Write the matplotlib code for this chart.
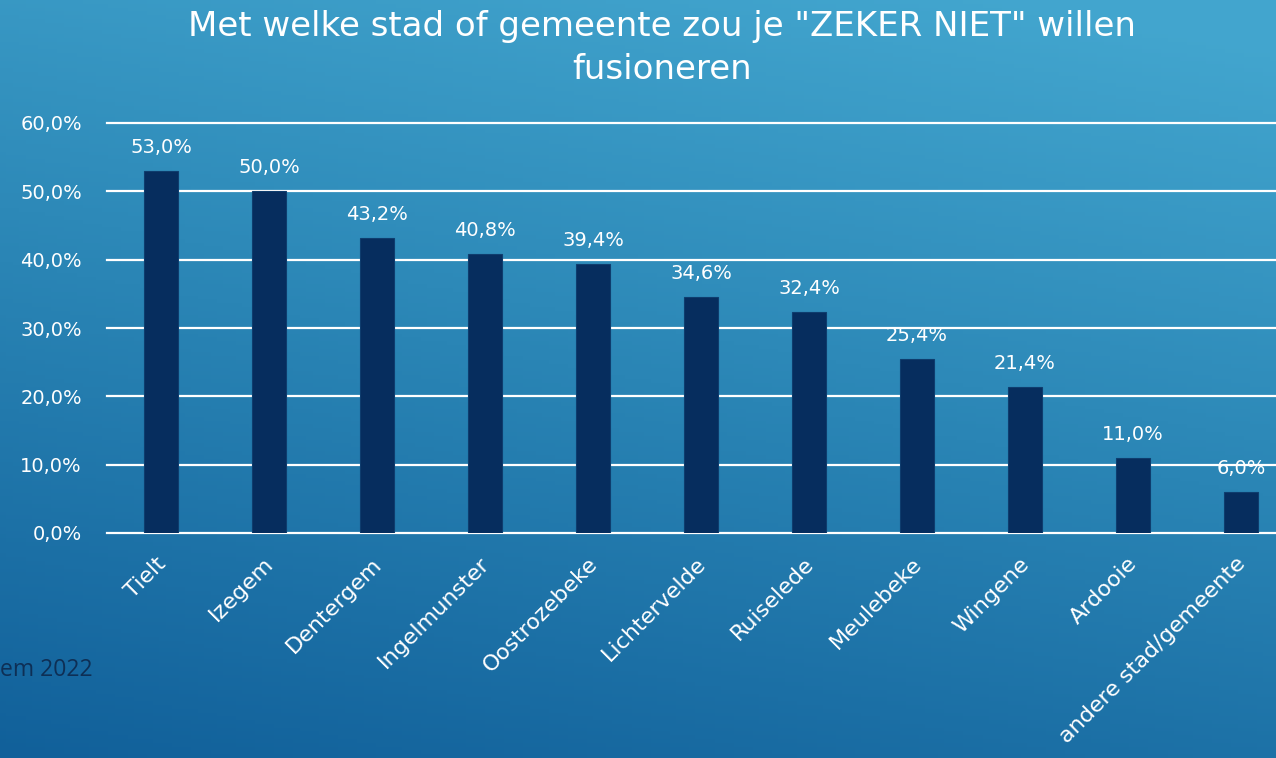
import numpy as np
import matplotlib
matplotlib.use("Agg")
import matplotlib.pyplot as plt
import matplotlib.transforms as mtransforms
from matplotlib.colors import LinearSegmentedColormap

categories = ["Tielt", "Izegem", "Dentergem", "Ingelmunster", "Oostrozebeke",
              "Lichtervelde", "Ruiselede", "Meulebeke", "Wingene", "Ardooie",
              "andere stad/gemeente"]
values = [53.0, 50.0, 43.2, 40.8, 39.4, 34.6, 32.4, 25.4, 21.4, 11.0, 6.0]
yticks = [0, 10, 20, 30, 40, 50, 60]
title = 'Met welke stad of gemeente zou je "ZEKER NIET" willen\nfusioneren'
footer = "em 2022"

W, H = 1276, 758
fig = plt.figure(figsize=(W/100, H/100), dpi=100)

# background gradient
bg = fig.add_axes([0, 0, 1, 1])
bg.set_axis_off()
yy, xx = np.mgrid[0:1:200j, 0:1:200j]
t = np.clip(0.8*yy + 0.25*xx, 0, 1)
cmap = LinearSegmentedColormap.from_list("bg", ["#11609a", "#2a85b5", "#45a9d1"])
bg.imshow(t, cmap=cmap, origin="lower", extent=[0, 1, 0, 1], aspect="auto",
          vmin=0, vmax=1.05)
bg.set_xlim(0, 1); bg.set_ylim(0, 1)

font = "DejaVu Sans"
white = "white"

left_px, right_px = 107, 107 + 11*108
top_px, bot_px = 123, 533
ax = fig.add_axes([left_px/W, 1 - bot_px/H, (right_px-left_px)/W, (bot_px-top_px)/H])
ax.patch.set_alpha(0)
x = np.arange(len(categories))
ax.bar(x, values, width=0.31, color="#062d5e", edgecolor="#0e3d6e", linewidth=0.8, zorder=3)
ax.set_xlim(-0.5, len(categories)-0.5)
ax.set_ylim(0, 60)
ax.set_yticks(yticks)
ax.set_yticklabels([f"{v:.1f}%".replace(".", ",") for v in yticks],
                   fontsize=14, color=white, family=font)
ax.yaxis.grid(True, color=white, linewidth=1.6, zorder=0)
for gl in ax.get_ygridlines():
    gl.set_clip_on(False)
ax.set_axisbelow(True)
ax.tick_params(axis="y", length=0, pad=18)
ax.tick_params(axis="x", length=0, pad=20)
for s in ax.spines.values():
    s.set_visible(False)
ax.set_xticks(x)
ax.set_xticklabels(categories, rotation=45, ha="right", va="center",
                   rotation_mode="anchor", fontsize=16, color=white, family=font)
off = mtransforms.ScaledTranslation(1/72, 0, fig.dpi_scale_trans)
for lab in ax.get_xticklabels():
    lab.set_transform(lab.get_transform() + off)

for xi, v in zip(x, values):
    ax.annotate(f"{v:.1f}%".replace(".", ","), (xi, v), xytext=(0, 13),
                textcoords="offset points", ha="center", va="baseline",
                fontsize=14, color=white, family=font)

fig.text(662/W, 1 - 48/H, title, ha="center", va="center", fontsize=24.5,
         color=white, family=font, linespacing=1.35)
fig.text(93/W, 1 - 670/H, footer, ha="right", va="center", fontsize=16.5,
         color="#0e2f55", family="Open Sans")

fig.savefig("out.png", dpi=100)
